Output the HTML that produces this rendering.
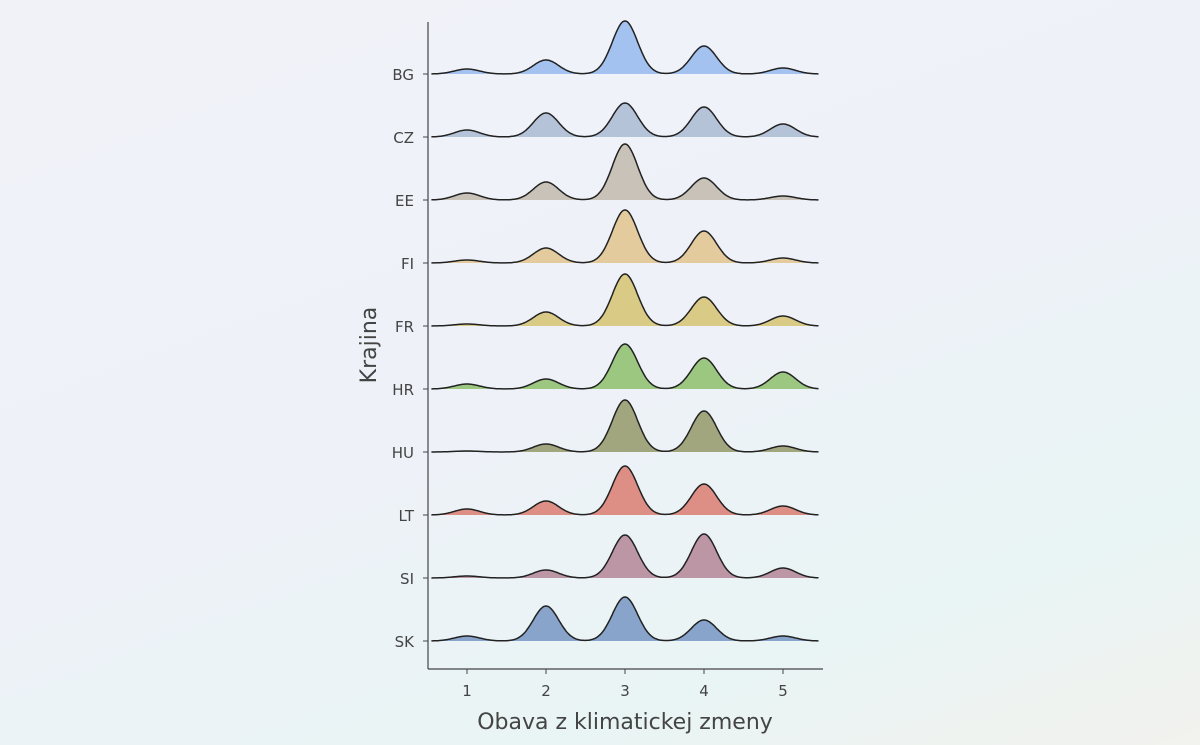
<!DOCTYPE html>
<html><head><meta charset="utf-8"><style>
body{margin:0;width:1200px;height:745px;overflow:hidden;background:linear-gradient(160deg,#f0f2f8 0%,#eef2f8 50%,#e9f4f4 80%,#f2f2ee 100%);font-family:"DejaVu Sans","Liberation Sans",sans-serif;}
</style></head><body>
<svg id="chart" width="1200" height="745" xmlns="http://www.w3.org/2000/svg" style="position:absolute;left:0;top:0;font-family:'DejaVu Sans','Liberation Sans',sans-serif"></svg>
<script>
const countries=["BG","CZ","EE","FI","FR","HR","HU","LT","SI","SK"];
const colors=["#a4c2ef","#b5c3d8","#c8c2b8","#e3cb9e","#d9cb86","#9cc781","#a2a67f","#dd8f86","#bc96a4","#88a4cb"];
const values=[1,2,3,4,5];
const BG=[5,14,53,28,6];
const CZ=[7,24,34,30,13];
const EE=[7,18,56,22,4];
const FI=[3,15,53,32,5];
const FR=[2,14,52,29,10];
const HR=[5,10,45,31,17];
const HU=[1,8,52,41,6];
const LT=[6,14,49,31,9];
const SI=[2,8,43,44,10];
const SK=[5,35,44,21,5];
const series=[BG,CZ,EE,FI,FR,HR,HU,LT,SI,SK];
const xTicks=["1","2","3","4","5"];

const NS="http://www.w3.org/2000/svg";
const svg=document.getElementById('chart');
function x(v){return 427.5+(v-0.5)*79;}
function yBase(i){return 74+i*63;}
function mk(t,a){const e=document.createElementNS(NS,t);for(const k in a)e.setAttribute(k,a[k]);return e;}
const sigma=0.16;
countries.forEach((c,i)=>{
  const b=yBase(i);const s=series[i];
  let pts=[];
  for(let v=0.55;v<=5.455;v+=0.01){
    let d=0;values.forEach((m,j)=>{d+=s[j]*Math.exp(-0.5*Math.pow((v-m)/sigma,2));});
    pts.push([x(v),b-d]);
  }
  const line=pts.map((p,k)=>(k?'L':'M')+p[0].toFixed(1)+' '+p[1].toFixed(1)).join(' ');
  const area=mk('path',{d:line+` L${pts[pts.length-1][0]} ${b} L${pts[0][0]} ${b} Z`,fill:colors[i],stroke:'none'});
  
  
  svg.appendChild(area);
  const ln=mk('path',{d:line,fill:'none',stroke:'#222',"stroke-width":1.5});
  
  
  svg.appendChild(ln);
  const tk=mk('line',{x1:423,x2:428,y1:b,y2:b,stroke:'#444'});
  
  
  svg.appendChild(tk);
  const t=mk('text',{x:414,y:b+6,"text-anchor":"end","font-size":15,fill:'#444'});
  t.textContent=c;
  
  
  svg.appendChild(t);
});
const ya=mk('line',{x1:428,x2:428,y1:22,y2:669,stroke:'#444',"stroke-width":1.2});


svg.appendChild(ya);
const xa=mk('line',{x1:428,x2:823,y1:669,y2:669,stroke:'#444',"stroke-width":1.2});


svg.appendChild(xa);
xTicks.forEach((l,i)=>{
  const xv=x(values[i]);
  const tk=mk('line',{x1:xv,x2:xv,y1:669,y2:674,stroke:'#444'});
  
  
  svg.appendChild(tk);
  const t=mk('text',{x:xv,y:696,"text-anchor":"middle","font-size":15,fill:'#444'});
  t.textContent=l;
  
  
  svg.appendChild(t);
});
const xt=mk('text',{x:625,y:729,"text-anchor":"middle","font-size":22,fill:'#444'});
xt.textContent="Obava z klimatickej zmeny";


svg.appendChild(xt);
const yt=mk('text',{x:376,y:345,"text-anchor":"middle","font-size":22,fill:'#444',transform:'rotate(-90 376 345)'});
yt.textContent="Krajina";


svg.appendChild(yt);
</script>
</body></html>
